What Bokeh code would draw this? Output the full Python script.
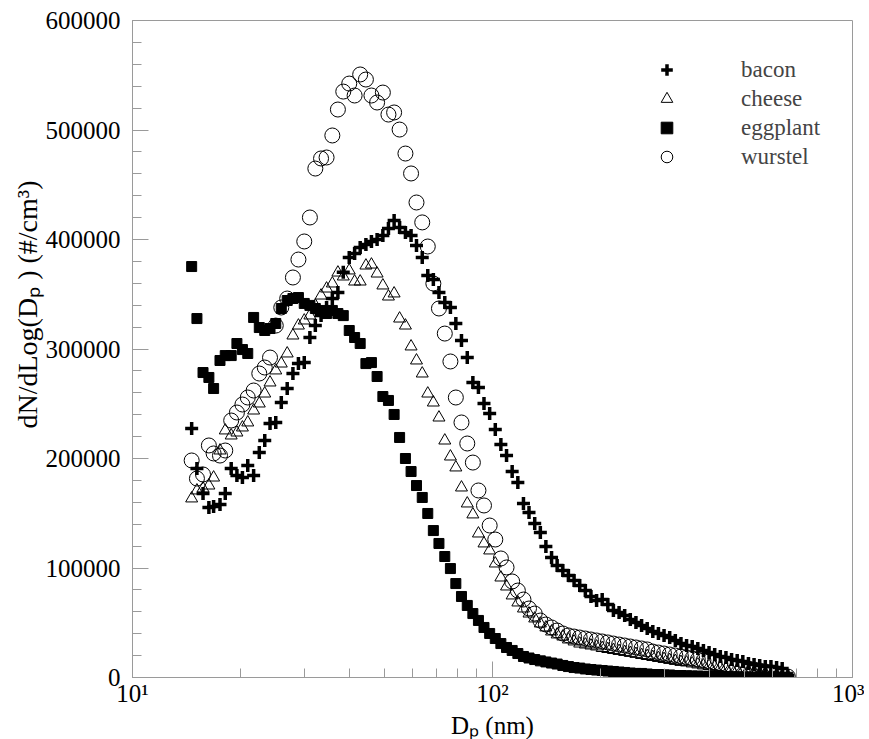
from bokeh.plotting import figure
from bokeh.models import (ColumnDataSource, Legend, LegendItem, FixedTicker,
                          BasicTicker, BasicTickFormatter, Range1d, Title)
from bokeh.embed import file_html
from bokeh.resources import INLINE

# Particle diameters (nm)
diameter = [14.6, 15.1, 15.7, 16.3, 16.8, 17.5, 18.1, 18.8, 19.5, 20.2, 20.9, 21.7, 22.5, 23.3,
            24.1, 25.0, 25.9, 26.9, 27.9, 28.9, 30.0, 31.1, 32.2, 33.4, 34.6, 35.9, 37.2, 38.5,
            40.0, 41.4, 42.9, 44.5, 46.1, 47.8, 49.6, 51.4, 53.3, 55.2, 57.3, 59.4, 61.5, 63.8,
            66.1, 68.5, 71.0, 73.7, 76.4, 79.1, 82.0, 85.1, 88.2, 91.4, 94.7, 98.2, 101.8, 105.5,
            109.4, 113.4, 117.6, 121.9, 126.3, 131.0, 135.8, 140.7, 145.9, 151.2, 156.8, 162.5,
            168.5, 174.7, 181.1, 187.7, 194.6, 201.7, 209.1, 216.7, 224.7, 232.9, 241.4, 250.3,
            259.5, 269.0, 278.8, 289.0, 299.6, 310.6, 322.0, 333.8, 346.0, 358.7, 371.8, 385.4,
            399.5, 414.2, 429.4, 445.1, 461.4, 478.3, 495.8, 514.0, 532.8, 552.3, 572.5, 593.5,
            615.3, 637.8, 661.2]

bacon = [227400, 190900, 168000, 155200, 156200, 158000, 168000, 190900, 184500, 182600,
         193600, 184500, 205500, 216400, 232000, 232900, 251100, 263900, 277600, 286700,
         287600, 310500, 321400, 330600, 337900, 346100, 351700, 370000, 383500, 387200,
         392700, 395400, 398200, 400000, 403600, 410000, 417300, 410900, 406400, 403600,
         394500, 383500, 367100, 363500, 351600, 342400, 337900, 323300, 307700, 292200,
         269400, 264800, 250200, 241100, 226500, 212800, 202700, 188100, 178100, 158900,
         150700, 140600, 132400, 119600, 109600, 102300, 97700, 93100, 88600, 84000,
         79400, 74000, 70300, 71200, 66700, 61200, 59400, 56600, 53000, 50200,
         47500, 44700, 42000, 40200, 38400, 36500, 33800, 31000, 29200, 28300,
         26500, 24700, 22800, 21000, 19200, 18300, 16400, 15500, 14600, 12800,
         11900, 11000, 10000, 10000, 9100, 8200, 1800]

cheese = [163500, 170800, 172600, 175300, 182600, 207300, 225600, 221000, 223700, 228300,
          232900, 243800, 250200, 259300, 269400, 280400, 286700, 295900, 312300, 321400,
          326000, 330600, 339700, 348800, 355200, 359800, 369800, 366200, 371700, 361600,
          361600, 376200, 377100, 368900, 358000, 347900, 350700, 327800, 321400, 302300,
          289500, 277600, 259300, 251100, 237400, 216400, 201800, 191800, 173500, 158900,
          148900, 131500, 122400, 116000, 104100, 91300, 83100, 74900, 68500, 63000,
          58400, 53900, 49300, 45700, 42000, 39300, 37400, 34700, 32900, 31000,
          30100, 29200, 28300, 26900, 26000, 25100, 24200, 23300, 22400, 21500,
          20500, 19600, 18700, 17800, 16900, 16000, 15100, 14200, 13700, 12800,
          11900, 11000, 10500, 9600, 9100, 8200, 7800, 6800, 6400, 5500,
          5000, 4100, 3700, 2700, 2300, 1400, 500]

eggplant = [375300, 327800, 278500, 274000, 263900, 289500, 294000, 294000, 305000, 299500,
            295900, 328800, 319600, 316900, 318700, 323300, 337000, 344300, 346100, 347000,
            341600, 339800, 337000, 335200, 332400, 335200, 332400, 330500, 316900, 310500,
            305000, 286700, 287600, 274900, 256600, 253000, 240200, 219200, 200000, 188100,
            175300, 164400, 149800, 134200, 122400, 110500, 99500, 85800, 74000, 65800,
            58400, 52100, 45700, 40200, 35600, 31000, 27400, 24700, 21900, 19200,
            17800, 16400, 15200, 14200, 13200, 12300, 11000, 10000, 9100, 8600,
            7800, 7300, 6800, 6400, 5900, 5500, 5000, 4600, 4100, 3700,
            3700, 3200, 2700, 2700, 2300, 2300, 1800, 1800, 1600, 1400,
            1300, 1100, 1000, 900, 800, 700, 600, 600, 500, 500,
            400, 400, 300, 300, 300, 200, 200]

wurstel = [198200, 181700, 185400, 211900, 204600, 202700, 207300, 234700, 242000, 249300,
           255700, 262100, 277600, 283100, 292200, 321400, 337900, 346100, 365300, 381700,
           398200, 420100, 464800, 474000, 474900, 495000, 518700, 535100, 542400, 531500,
           550700, 546100, 531500, 525100, 534200, 514100, 516000, 500400, 478500, 460300,
           433800, 415600, 393600, 359800, 337000, 314100, 288600, 255700, 232900, 213700,
           196300, 170800, 157100, 138800, 126000, 108700, 100500, 87700, 79400, 71200,
           63000, 58400, 52000, 48400, 45700, 42900, 40200, 38400, 37400, 36500,
           35600, 34700, 33800, 32900, 32000, 31000, 30100, 29200, 28300, 27400,
           26500, 25600, 23700, 22800, 21900, 21000, 20100, 19200, 18300, 17400,
           16400, 15500, 14600, 13700, 12800, 11900, 11000, 10000, 9100, 8200,
           7300, 6400, 5500, 4600, 3700, 2700, 900]

series_names = ["bacon", "cheese", "eggplant", "wurstel"]

x_major_ticks = [10, 100, 1000]
x_minor_ticks = [20, 30, 40, 50, 60, 70, 80, 90, 200, 300, 400, 500, 600, 700, 800, 900]
x_tick_labels = {10: "10\u00b9", 100: "10\u00b2", 1000: "10\u00b3"}

FONT = "Liberation Serif"
GRAY = "#9a9a9a"

p = figure(x_axis_type="log",
           x_range=Range1d(10, 1000), y_range=Range1d(0, 600000),
           output_backend="svg", toolbar_location=None,
           min_border_left=132, min_border_right=12, min_border_top=20, min_border_bottom=58)
p.frame_width = 720
p.frame_height = 657

p.xgrid.visible = False
p.ygrid.visible = False
p.outline_line_color = GRAY
p.outline_line_width = 1
p.background_fill_color = "white"
p.border_fill_color = "white"

src = ColumnDataSource(dict(d=diameter, bacon=bacon, cheese=cheese,
                            eggplant=eggplant, wurstel=wurstel))

r_bacon = p.scatter("d", "bacon", source=src, marker="cross", size=13,
                    line_color="black", line_width=3.5)
r_cheese = p.scatter("d", "cheese", source=src, marker="triangle", size=12,
                     line_color="black", fill_color=None, line_width=1)
r_egg = p.scatter("d", "eggplant", source=src, marker="square", size=10,
                  line_color="black", fill_color="black", line_width=1)
r_wur = p.scatter("d", "wurstel", source=src, marker="circle", size=15,
                  line_color="black", fill_color=None, line_width=1)

# axes
xa = p.xaxis[0]
xa.ticker = FixedTicker(ticks=x_major_ticks, minor_ticks=x_minor_ticks)
xa.major_label_overrides = x_tick_labels
xa.axis_label = "D\u209a (nm)"
ya = p.yaxis[0]
ya.ticker = BasicTicker(desired_num_ticks=7, num_minor_ticks=5)
ya.formatter = BasicTickFormatter(use_scientific=False)
ya.axis_label = None

for ax in (xa, ya):
    ax.axis_line_color = GRAY
    ax.major_tick_line_color = GRAY
    ax.minor_tick_line_color = GRAY
    ax.major_tick_in = 16
    ax.major_tick_out = 0
    ax.minor_tick_in = 9
    ax.minor_tick_out = 0
    ax.major_label_text_font = FONT
    ax.major_label_text_font_size = "25px"
    ax.major_label_text_color = "black"
    ax.axis_label_text_font = FONT
    ax.axis_label_text_font_size = "25px"
    ax.axis_label_text_font_style = "normal"
    ax.axis_label_text_color = "black"
xa.major_label_standoff = 2
xa.axis_label_standoff = 2
ya.major_label_standoff = 12

ytitle = Title(text="dN/dLog(D\u209a ) (#/cm\u00b3)", align="right", offset=160,
               text_font=FONT, text_font_size="28px", text_font_style="normal",
               text_color="black", standoff=0)
p.add_layout(ytitle, "left")

legend = Legend(items=[LegendItem(label=n, renderers=[r]) for n, r in
                       zip(series_names, [r_bacon, r_cheese, r_egg, r_wur])],
                location=(520, 506), orientation="vertical",
                glyph_width=29, glyph_height=29, label_height=24, spacing=0,
                label_standoff=60, padding=0, margin=0,
                border_line_color=None, background_fill_alpha=0,
                label_text_font=FONT, label_text_font_size="23px")
p.add_layout(legend)

open("out.html", "w").write(file_html(p, INLINE))
